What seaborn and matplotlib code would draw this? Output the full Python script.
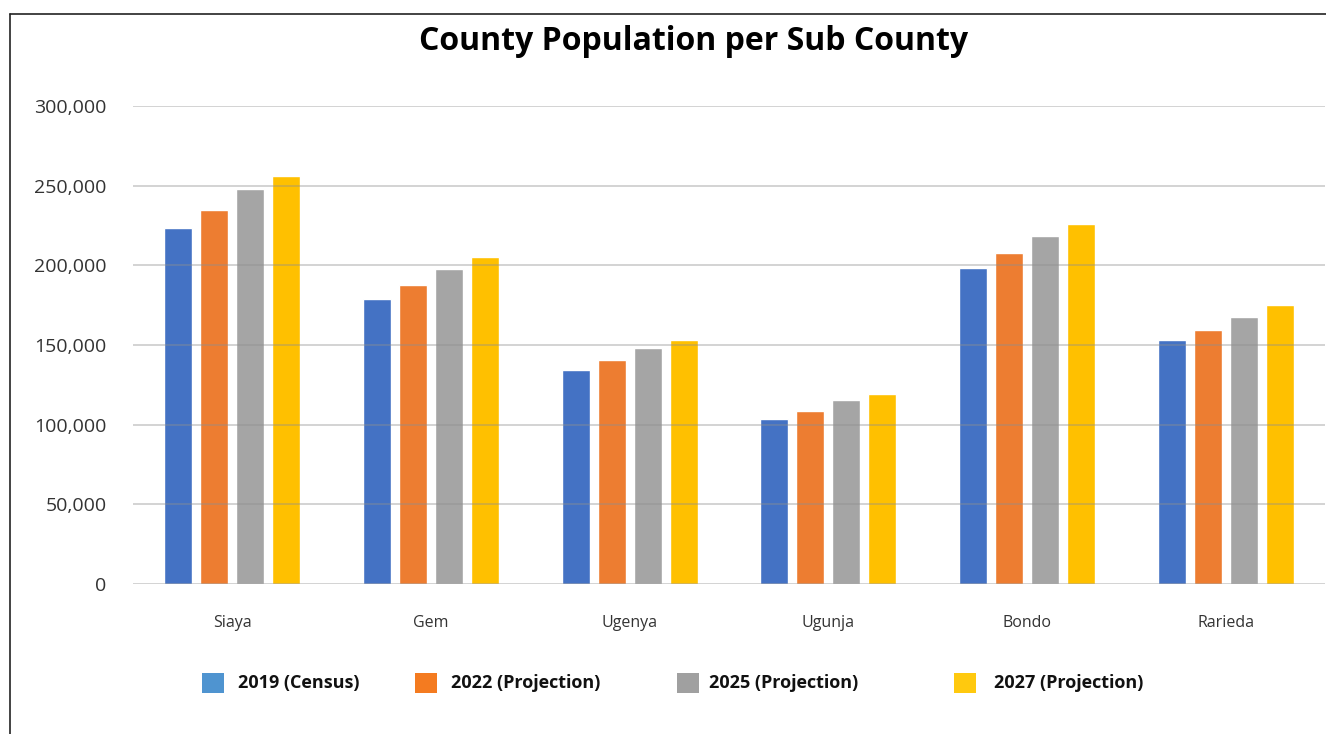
import matplotlib
matplotlib.use("Agg")
import matplotlib.pyplot as plt
from matplotlib.patches import Rectangle
from matplotlib.lines import Line2D
from matplotlib.ticker import FuncFormatter
import seaborn as sns
import pandas as pd

# Population per sub county: 2019 census and projections
sub_counties = ["Siaya", "Gem", "Ugenya", "Ugunja", "Bondo", "Rarieda"]
pop_2019 = [223300, 178700, 134100, 103300, 198200, 152900]
pop_2022 = [234600, 187500, 140300, 108300, 207600, 159200]
pop_2025 = [247800, 197500, 147900, 115200, 218300, 167400]
pop_2027 = [256000, 205100, 152900, 119000, 225800, 174900]
series_labels = ["2019 (Census)", "2022 (Projection)", "2025 (Projection)", "2027 (Projection)"]
y_ticks = [0, 50000, 100000, 150000, 200000, 250000, 300000]

bar_colors = ["#4472C4", "#ED7D31", "#A5A5A5", "#FFC000"]
legend_colors = ["#4F94D0", "#F47B20", "#A0A0A0", "#FFC90E"]

W, H = 1326, 734

df = pd.DataFrame({
    "Sub County": sub_counties * 4,
    "Series": [s for s in series_labels for _ in sub_counties],
    "Population": pop_2019 + pop_2022 + pop_2025 + pop_2027,
})

sns.set_theme(style="white")
plt.rcParams["font.family"] = ["Open Sans", "DejaVu Sans"]

fig = plt.figure(figsize=(W / 100, H / 100), dpi=100)
ax = fig.add_axes([133 / W, 1 - 584 / H, 1192 / W, 478 / H])

sns.barplot(data=df, x="Sub County", y="Population", hue="Series",
            hue_order=series_labels, palette=bar_colors, width=0.725,
            gap=0.22, saturation=1, legend=False, ax=ax, errorbar=None)

ax.set_ylim(0, 300000)
ax.set_xlim(-0.5, len(sub_counties) - 0.5)
ax.set_yticks(y_ticks)
ax.yaxis.set_major_formatter(FuncFormatter(lambda v, p: f"{int(v):,}"))
ax.set_xlabel("")
ax.set_ylabel("")
for s in ax.spines.values():
    s.set_visible(False)
ax.set_axisbelow(False)
ax.grid(axis="y", color="#8f8f8f", alpha=0.5, linewidth=1.1)
ax.grid(axis="x", visible=False)
ax.tick_params(axis="y", length=0, pad=19, labelsize=14, labelcolor="#333333")
ax.tick_params(axis="x", length=0, pad=22, labelsize=11.5, labelcolor="#333333")

fig.suptitle("County Population per Sub County", x=0.523, y=1 - 42 / H,
             va="center", fontsize=23, fontweight="bold", color="#000000")

# Legend row: swatch and label for each series
swatch_x = [202, 415, 677, 954]
label_x = [238, 451, 709, 994]
for sx, lx, color, label in zip(swatch_x, label_x, legend_colors, series_labels):
    fig.add_artist(Rectangle((sx / W, 1 - 693 / H), 22 / W, 20 / H,
                             transform=fig.transFigure, facecolor=color,
                             edgecolor="none"))
    fig.text(lx / W, 1 - 683 / H, label, ha="left", va="center",
             fontsize=13, fontweight="bold", color="#111111")

# Outer frame: left and top edges
fig.add_artist(Line2D([10 / W, 10 / W], [0, 1 - 14 / H],
                      transform=fig.transFigure, color="#222222", linewidth=1.2))
fig.add_artist(Line2D([10 / W, 1], [1 - 14 / H, 1 - 14 / H],
                      transform=fig.transFigure, color="#222222", linewidth=1.2))

fig.savefig("out.png", dpi=100, facecolor="white")
